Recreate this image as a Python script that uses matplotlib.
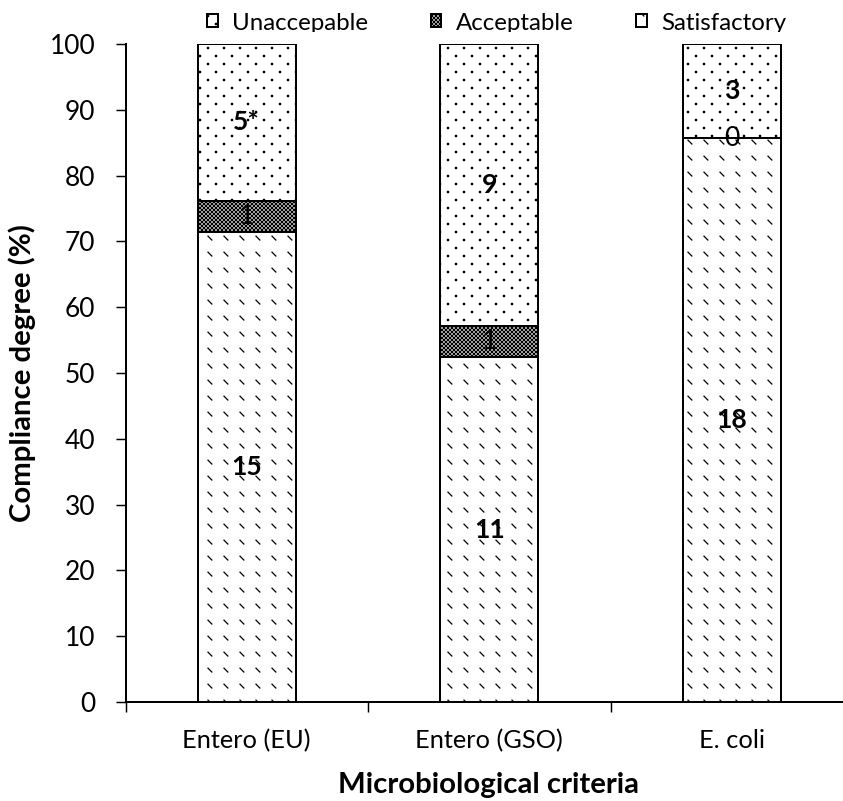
import warnings
warnings.filterwarnings("ignore")
import numpy as np
import matplotlib
matplotlib.use("Agg")
import matplotlib.pyplot as plt
import matplotlib.hatch as mhatch
from matplotlib.path import Path
from matplotlib.transforms import Bbox, TransformedBbox

# ---------------- data ----------------
categories = ["Entero (EU)", "Entero (GSO)", "E. coli"]
series_names = ["Unaccepable", "Acceptable", "Satisfactory"]
satisfactory = [15, 11, 18]
acceptable = [1, 1, 0]
unacceptable = [5, 9, 3]
label_unacceptable = ["5*", "9", "3"]
y_ticks = [0, 10, 20, 30, 40, 50, 60, 70, 80, 90, 100]
x_title = "Microbiological criteria"
y_title = "Compliance degree (%)"

# ---------------- custom hatch patterns ----------------
mhatch._validate_hatch_pattern = lambda h: None


class _CustomHatch(mhatch.HatchPatternBase):
    def __init__(self, hatch, density):
        polys = []  # list of (vertices, closed)
        if 'p' in hatch:  # staggered dots (16 px lattice at 96 dpi)
            n = 6
            s = 0.0058
            for r in range(2 * n + 1):
                y = r / (2 * n)
                off = 0.0 if r % 2 == 0 else 0.5 / n
                for c in range(n + 1):
                    x = c / n + off
                    polys.append(([(x - s, y - s), (x + s, y - s), (x + s, y + s), (x - s, y + s), (x - s, y - s)], True))
        if 'k' in hatch:  # fine checkerboard
            n = 24
            s = 0.0058
            for r in range(n + 1):
                for c in range(n + 1):
                    for (dx, dy) in ((0.0, 0.0), (0.5 / n, 0.5 / n)):
                        x = c / n + dx
                        y = r / n + dy
                        polys.append(([(x - s, y - s), (x + s, y - s), (x + s, y + s), (x - s, y + s), (x - s, y - s)], True))
        if 'd' in hatch:  # short backslash dashes
            n = 6
            d = 0.040
            for r in range(n + 1):
                for c in range(n + 1):
                    x = c / n
                    y = r / n
                    polys.append(([(x, y + d), (x + d, y)], False))
        self.polys = polys
        self.num_vertices = sum(len(p[0]) for p in polys)

    def set_vertices_and_codes(self, vertices, codes):
        i = 0
        for verts, closed in self.polys:
            k = len(verts)
            vertices[i:i + k] = verts
            codes[i] = Path.MOVETO
            codes[i + 1:i + k] = Path.LINETO
            if closed:
                codes[i + k - 1] = Path.CLOSEPOLY
            i += k


mhatch._hatch_types.append(_CustomHatch)

# ---------------- style ----------------
DPI = 96
W, H = 843, 801
plt.rcParams['font.family'] = ['Lato', 'DejaVu Sans']
plt.rcParams['hatch.linewidth'] = 0.95
plt.rcParams['hatch.color'] = 'black'

fig = plt.figure(figsize=(W / DPI, H / DPI), dpi=DPI)
ax_l, ax_r, ax_t, ax_b = 125.5, 853.0, 44.0, 702.0
ax = fig.add_axes([ax_l / W, 1 - ax_b / H, (ax_r - ax_l) / W, (ax_b - ax_t) / H])

sat = np.array(satisfactory, float)
acc = np.array(acceptable, float)
una = np.array(unacceptable, float)
tot = sat + acc + una
p_sat = sat / tot * 100
p_acc = acc / tot * 100
p_una = una / tot * 100

x = np.arange(len(categories))
bw = 0.404
edge = dict(edgecolor='black', linewidth=1.5)
b_sat = ax.bar(x, p_sat, bw, color='white', hatch='d', **edge, zorder=2)
b_acc = ax.bar(x, p_acc, bw, bottom=p_sat, color='white', hatch='k', **edge, zorder=2)
b_una = ax.bar(x, p_una, bw, bottom=p_sat + p_acc, color='white', hatch='p', **edge, zorder=2)

# data labels, centred in each segment
for i in range(len(categories)):
    ax.text(x[i], p_sat[i] / 2, str(satisfactory[i]), ha='center', va='center',
            fontsize=20, fontweight='bold', zorder=4)
    ax.text(x[i], p_sat[i] + p_acc[i] / 2, str(acceptable[i]), ha='center', va='center',
            fontsize=20, zorder=4)
    ax.text(x[i], p_sat[i] + p_acc[i] + p_una[i] / 2, label_unacceptable[i],
            ha='center', va='center', fontsize=20, fontweight='bold', zorder=4)

ax.set_xlim(-0.5, 2.5)
ax.set_ylim(0, 100)
ax.set_yticks(y_ticks)
ax.set_xticks(np.arange(len(categories) + 1) - 0.5)
ax.set_xticklabels([])
ax.set_xticks(x, minor=True)
ax.set_xticklabels(categories, minor=True)
for s in ['top', 'right']:
    ax.spines[s].set_visible(False)
for s in ['left', 'bottom']:
    ax.spines[s].set_linewidth(1.5)
ax.tick_params(axis='y', which='major', direction='out', length=7.5, width=1.1, pad=15, labelsize=19.8)
ax.tick_params(axis='x', which='major', direction='out', length=7.5, width=1.1)
ax.tick_params(axis='x', which='minor', length=0, pad=20, labelsize=19)

ax.set_xlabel(x_title, fontsize=22, fontweight='bold', va='center')
ax.xaxis.set_label_coords((489 - ax_l) / (ax_r - ax_l), (ax_b - 785) / (ax_b - ax_t))
ax.set_ylabel(y_title, fontsize=22, fontweight='bold', va='center')
ax.yaxis.set_label_coords((22 - ax_l) / (ax_r - ax_l), 0.5)

# legend at top (clipped at its bottom like the original crop)
handles = [b_una[0], b_acc[0], b_sat[0]]
leg = fig.legend(handles, series_names, loc='center left',
                 bbox_to_anchor=(207 / W, 1 - 23 / H), ncol=3, frameon=False,
                 fontsize=18, handlelength=0.45, handleheight=0.45,
                 handletextpad=0.6, columnspacing=2.6, borderpad=0, borderaxespad=0)
clip = TransformedBbox(Bbox([[0, 1 - 32 / H], [1, 1]]), fig.transFigure)
for t in leg.get_texts():
    t.set_clip_box(clip)
    t.set_clip_on(True)

fig.savefig('out.png', dpi=DPI)
